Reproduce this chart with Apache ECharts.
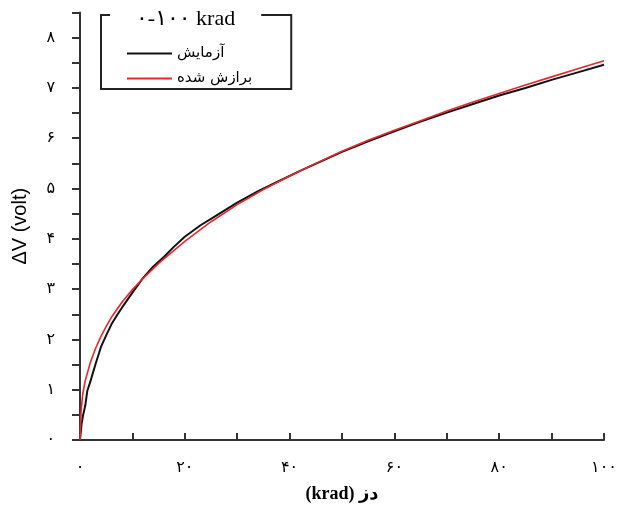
<!DOCTYPE html>
<html>
<head>
<meta charset="utf-8">
<script src="https://cdn.jsdelivr.net/npm/echarts@6/dist/echarts.min.js"></script>
<style>
  html, body { margin: 0; padding: 0; background: #fff; }
  #chart { width: 638px; height: 508px; }
</style>
</head>
<body>
<div id="chart"></div>
<script>
// Measured response (black) and fitted curve (red): ΔV versus dose in krad
const measuredDose = [0, 0.3, 0.6, 1, 1.4, 2, 2.5, 3, 4, 5, 6, 7, 8, 9, 10, 12, 14, 16, 18, 20, 23, 26, 30, 34, 38, 42, 46, 50, 55, 60, 65, 70, 75, 80, 85, 90, 95, 100];
const measuredVolt = [0, 0.32, 0.5, 0.68, 0.98, 1.17, 1.35, 1.52, 1.85, 2.08, 2.3, 2.47, 2.63, 2.78, 2.93, 3.22, 3.45, 3.64, 3.85, 4.04, 4.27, 4.46, 4.72, 4.95, 5.15, 5.35, 5.54, 5.73, 5.94, 6.14, 6.33, 6.51, 6.68, 6.85, 7.0, 7.16, 7.31, 7.46];

const fitDose = [0, 0.2, 0.5, 1, 2, 3, 4, 5, 6, 8, 10, 12, 15, 20, 25, 30, 35, 40, 45, 50, 55, 60, 65, 70, 75, 80, 85, 90, 95, 100];
const fitVolt = [0, 0.55, 0.9, 1.18, 1.55, 1.83, 2.06, 2.26, 2.44, 2.74, 2.99, 3.21, 3.51, 3.95, 4.34, 4.68, 4.98, 5.25, 5.5, 5.74, 5.96, 6.16, 6.35, 6.54, 6.72, 6.89, 7.06, 7.22, 7.38, 7.54];

const seriesNames = ['آزمایش', 'برازش شده'];
const legendTitle = '۰-۱۰۰ krad';

// Tick labels (Persian digits)
const xTickValues = [0, 20, 40, 60, 80, 100];
const xTickLabels = ['۰', '۲۰', '۴۰', '۶۰', '۸۰', '۱۰۰'];
const yTickValues = [0, 1, 2, 3, 4, 5, 6, 7, 8];
const yTickLabels = ['۰', '۱', '۲', '۳', '۴', '۵', '۶', '۷', '۸'];

const xName = '(krad) دز';
const yName = 'ΔV (volt)';

function pairs(xs, ys) {
  return xs.map((x, i) => [x, ys[i]]);
}
function labelFor(values, labels) {
  return function (v) {
    const i = values.findIndex(t => Math.abs(t - v) < 1e-9);
    return i >= 0 ? labels[i] : '';
  };
}

const axisColor = '#333';
const chart = echarts.init(document.getElementById('chart'), null, { renderer: 'canvas' });

chart.setOption({
  backgroundColor: '#fff',
  animation: false,
  title: {
    text: legendTitle,
    left: 110,
    top: 6,
    padding: [2, 26, 2, 26],
    backgroundColor: '#fff',
    textStyle: {
      fontFamily: "'Liberation Serif', 'DejaVu Sans', serif",
      fontSize: 22,
      fontWeight: 'normal',
      color: '#000'
    }
  },
  legend: {
    data: seriesNames,
    orient: 'vertical',
    left: 101,
    top: 15,
    padding: [31, 39, 3, 25],
    itemWidth: 45,
    itemHeight: 14,
    itemGap: 10,
    itemTextGap: 9,
    borderColor: '#222',
    borderWidth: 2,
    borderRadius: 0,
    itemStyle: { opacity: 0 },
    textStyle: {
      fontFamily: "'DejaVu Sans', sans-serif",
      fontSize: 15,
      color: '#000'
    }
  },
  grid: {
    left: 80,
    right: 34,
    top: 12.5,
    bottom: 67.5,
    containLabel: false
  },
  xAxis: {
    type: 'value',
    min: 0,
    max: 100,
    interval: 10,
    name: xName,
    nameLocation: 'middle',
    nameGap: 45,
    nameTextStyle: {
      fontFamily: "'Liberation Serif', 'DejaVu Sans', serif",
      fontSize: 18,
      fontWeight: 'bold',
      color: '#000'
    },
    axisLine: { show: true, onZero: false, lineStyle: { color: axisColor, width: 2 } },
    axisTick: { show: true, inside: true, length: 7, lineStyle: { color: axisColor, width: 2 } },
    axisLabel: {
      margin: 20,
      fontFamily: "'DejaVu Sans', sans-serif",
      fontSize: 16,
      color: '#000',
      formatter: labelFor(xTickValues, xTickLabels)
    },
    splitLine: { show: false }
  },
  yAxis: {
    type: 'value',
    min: 0,
    max: 8.5,
    interval: 0.5,
    name: yName,
    nameLocation: 'middle',
    nameGap: 50,
    nameRotate: 90,
    nameTextStyle: {
      fontFamily: "'Liberation Sans', Arial, sans-serif",
      fontSize: 20,
      color: '#000'
    },
    axisLine: { show: true, onZero: false, lineStyle: { color: axisColor, width: 2 } },
    axisTick: { show: true, inside: false, length: 8, lineStyle: { color: axisColor, width: 2 } },
    axisLabel: {
      margin: 25,
      fontFamily: "'DejaVu Sans', sans-serif",
      fontSize: 16,
      color: '#000',
      formatter: labelFor(yTickValues, yTickLabels)
    },
    splitLine: { show: false }
  },
  series: [
    {
      name: seriesNames[0],
      type: 'line',
      data: pairs(measuredDose, measuredVolt),
      symbol: 'none',
      smooth: false,
      z: 2,
      lineStyle: { color: '#111', width: 2 },
      itemStyle: { color: '#111' }
    },
    {
      name: seriesNames[1],
      type: 'line',
      data: pairs(fitDose, fitVolt),
      symbol: 'none',
      smooth: false,
      z: 3,
      lineStyle: { color: '#e8262d', width: 1.6 },
      itemStyle: { color: '#e8262d' }
    }
  ]
});
</script>
</body>
</html>
